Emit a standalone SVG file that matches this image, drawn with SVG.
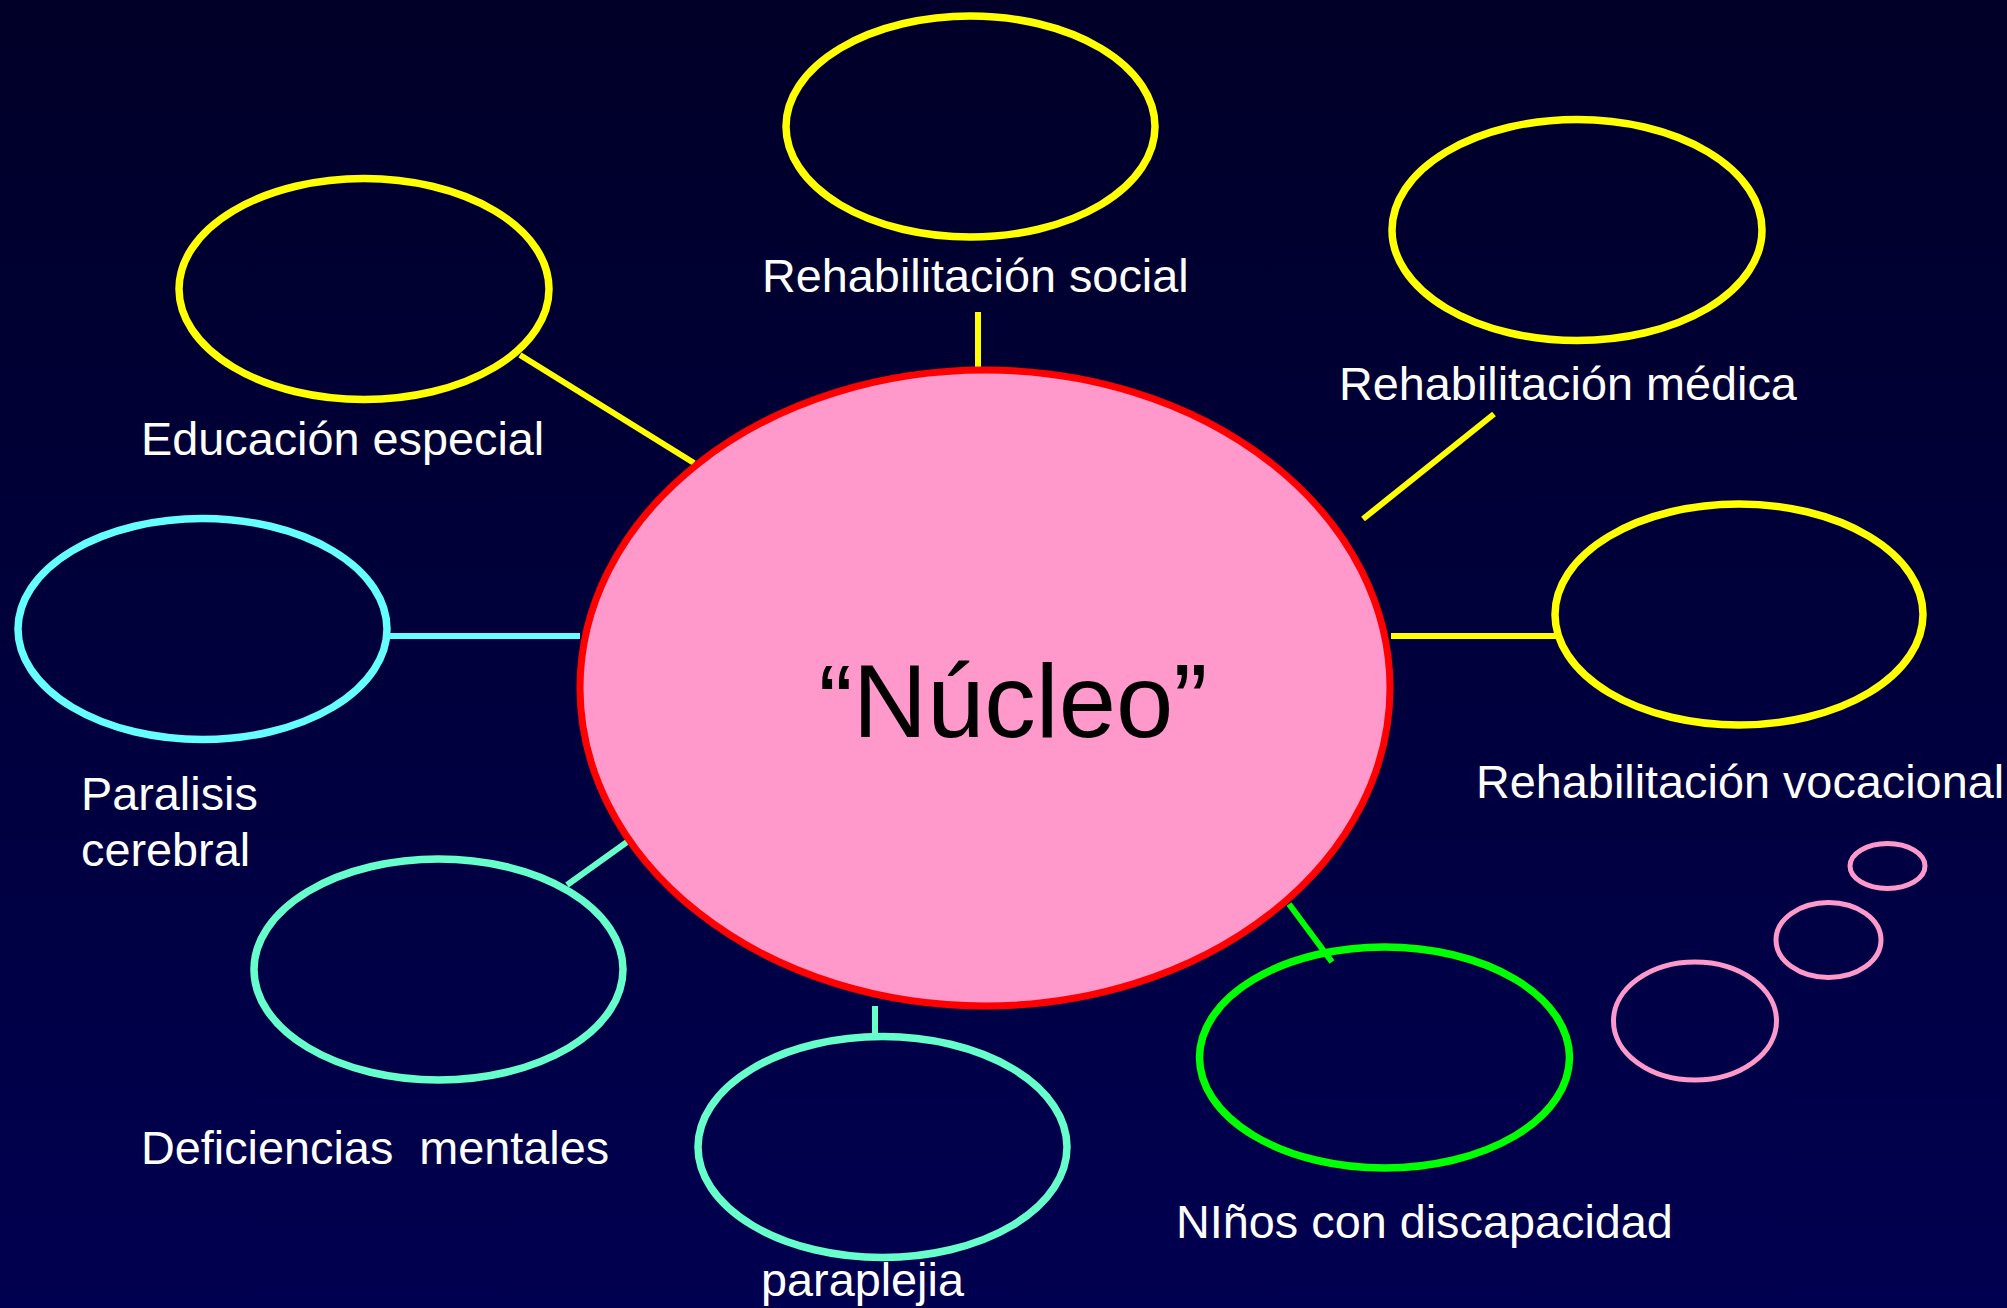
<svg xmlns="http://www.w3.org/2000/svg" width="2007" height="1308" viewBox="0 0 2007 1308">
<defs>
<linearGradient id="bg" x1="0" y1="0" x2="0" y2="1">
<stop offset="0" stop-color="#000028"/>
<stop offset="1" stop-color="#000050"/>
</linearGradient>
<style>
.lbl{font-family:"Liberation Sans",Arial,sans-serif;font-size:46.8px;fill:#ffffff;white-space:pre}
.node{fill:none;stroke-width:7.5}
.y{stroke:#ffff00}
.c{stroke:#66ffff}
.a{stroke:#66ffcc}
.g{stroke:#00ff00}
.p{fill:none;stroke:#ff99cc;stroke-width:5}
.ln{stroke-width:6;fill:none}
</style>
</defs>
<rect x="0" y="0" width="2007" height="1308" fill="url(#bg)"/>
<g id="connectors">
<line class="ln y" x1="978" y1="312" x2="978" y2="368"/>
<line class="ln y" x1="520" y1="355" x2="694" y2="463"/>
<line class="ln y" x1="1494" y1="414" x2="1363" y2="519"/>
<line class="ln y" x1="1391" y1="636" x2="1556" y2="636"/>
<line class="ln c" x1="387" y1="636" x2="580" y2="636"/>
<line class="ln a" x1="567" y1="885" x2="627" y2="842"/>
<line class="ln a" x1="875" y1="1006" x2="875" y2="1035"/>
<line class="ln g" x1="1289" y1="904" x2="1332" y2="962"/>
</g>
<g id="nucleo">
<ellipse cx="985" cy="688" rx="405" ry="318" fill="#ff99cc" stroke="#ff0000" stroke-width="7"/>
<text x="1013" y="737" text-anchor="middle" font-family="Liberation Sans, Arial, sans-serif" font-size="103" fill="#000000">“Núcleo”</text>
</g>
<g id="rehab-social">
<ellipse class="node y" cx="970.5" cy="126.5" rx="184.5" ry="110.5"/>
<text class="lbl" x="762" y="292">Rehabilitación social</text>
</g>
<g id="educacion">
<ellipse class="node y" cx="364" cy="289" rx="185" ry="110.5"/>
<text class="lbl" x="141" y="455">Educación especial</text>
</g>
<g id="rehab-medica">
<ellipse class="node y" cx="1577" cy="230" rx="185" ry="110.5"/>
<text class="lbl" x="1339" y="400">Rehabilitación médica</text>
</g>
<g id="rehab-vocacional">
<ellipse class="node y" cx="1739" cy="614.5" rx="184" ry="110.5"/>
<text class="lbl" x="1476" y="798">Rehabilitación vocacional</text>
</g>
<g id="paralisis">
<ellipse class="node c" cx="202.5" cy="629" rx="184.5" ry="110.5"/>
<text class="lbl" x="81" y="810">Paralisis</text>
<text class="lbl" x="81" y="866">cerebral</text>
</g>
<g id="deficiencias">
<ellipse class="node a" cx="438.5" cy="969.5" rx="184.5" ry="110.5"/>
<text class="lbl" x="141" y="1164">Deficiencias  mentales</text>
</g>
<g id="paraplejia">
<ellipse class="node a" cx="882.5" cy="1147" rx="184.5" ry="110.5"/>
<text class="lbl" x="761" y="1296">paraplejia</text>
</g>
<g id="ninos">
<ellipse class="node g" cx="1384.5" cy="1057.5" rx="185" ry="110.5"/>
<text class="lbl" x="1176" y="1238">NIños con discapacidad</text>
</g>
<g id="bubbles">
<ellipse class="p" cx="1695" cy="1021" rx="81.5" ry="59"/>
<ellipse class="p" cx="1828.5" cy="940" rx="52.5" ry="37.5"/>
<ellipse class="p" cx="1887.5" cy="866" rx="37.5" ry="22.5"/>
</g>
</svg>
